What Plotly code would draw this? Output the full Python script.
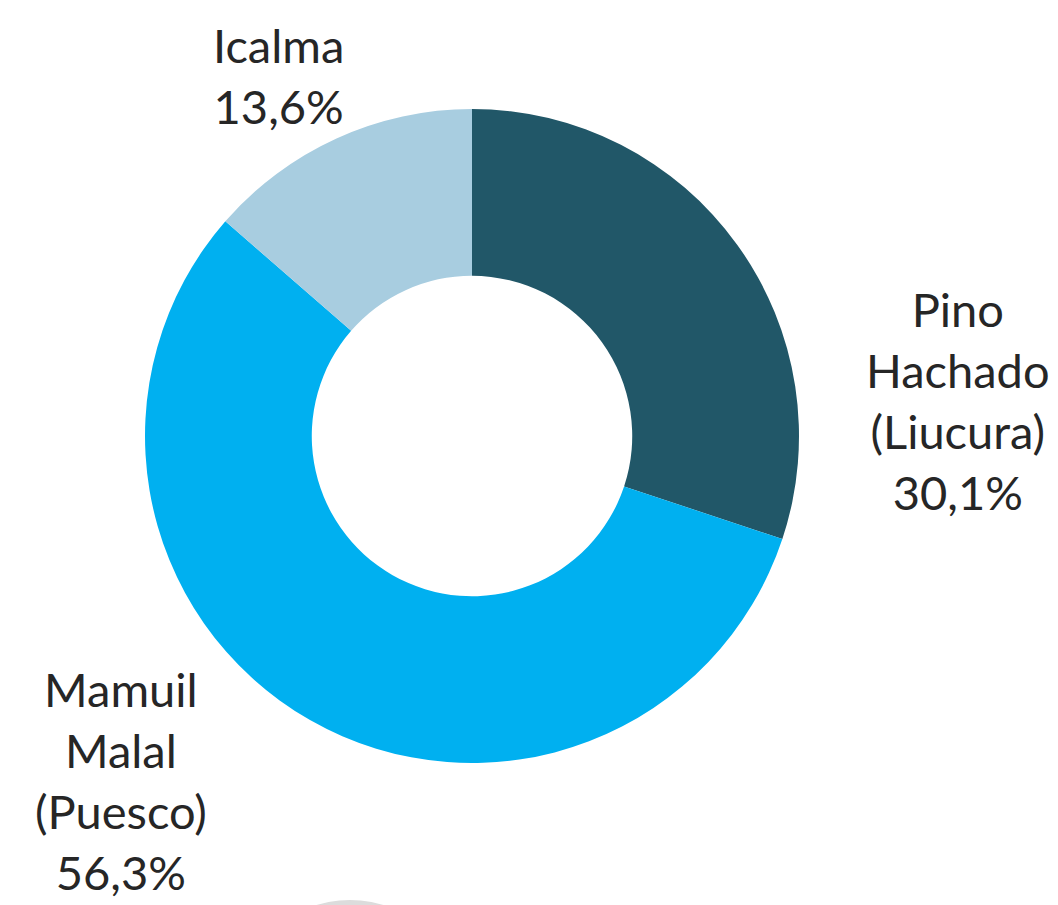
import plotly.graph_objects as go

labels = ["Pino<br>Hachado<br>(Liucura)", "Mamuil<br>Malal<br>(Puesco)", "Icalma"]
values = [30.1, 56.3, 13.6]
colors = ["#215768", "#00b0f0", "#a8cde0"]

W, H = 1058, 905
cx, cy, r = 464, 428, 327

fig = go.Figure(go.Pie(
    labels=labels, values=values, hole=0.49, sort=False,
    direction="clockwise", rotation=0,
    marker=dict(colors=colors, line=dict(width=0)),
    textinfo="none", hoverinfo="label+percent", showlegend=False,
    domain=dict(x=[(cx - r) / W, (cx + r) / W], y=[(H - cy - r) / H, (H - cy + r) / H]),
))

label_pos = [(950, 392), (113, 772), (270, 68)]
for lab, v, (x, y) in zip(labels, values, label_pos):
    fig.add_annotation(
        x=x / W, y=1 - y / H, xref="paper", yref="paper",
        text=f"{lab}<br>{v:.1f}%".replace(".", ","),
        showarrow=False, align="center", xanchor="center", yanchor="middle",
        font=dict(family="Lato", size=47, color="#262626"),
    )

# faint grey artifact at the bottom edge
fig.add_shape(type="circle", xref="paper", yref="paper",
              x0=(342 - 110) / W, x1=(342 + 110) / W,
              y0=1 - (892 + 220) / H, y1=1 - 892 / H,
              fillcolor="#dcdcdc", line=dict(width=0), layer="below")

fig.update_layout(
    width=W, height=H, margin=dict(l=0, r=0, t=0, b=0),
    paper_bgcolor="white", plot_bgcolor="white",
)
fig.write_html("out.html")
